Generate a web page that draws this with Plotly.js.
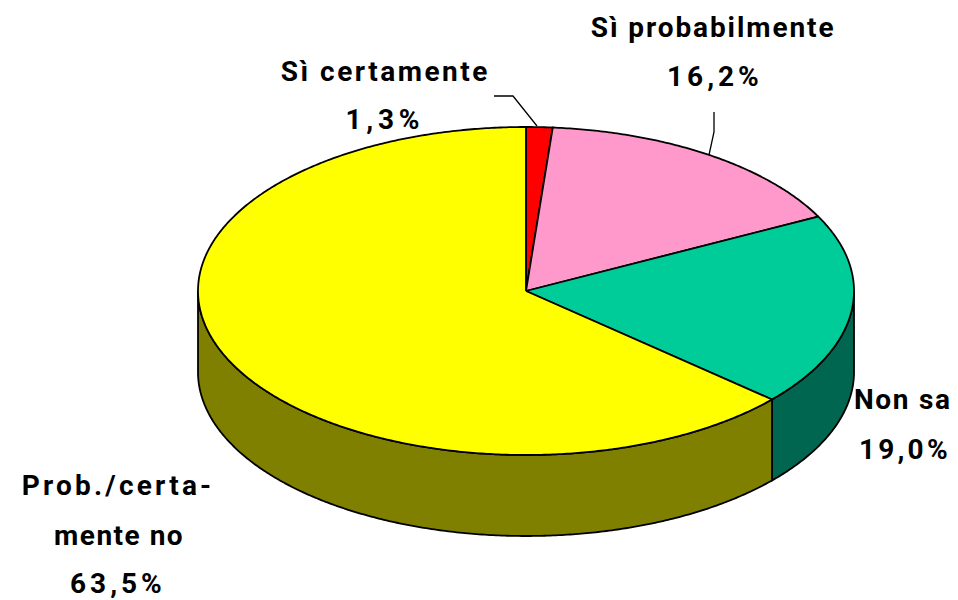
<!DOCTYPE html>
<html>
<head>
<meta charset="utf-8">
<script src="https://cdn.plot.ly/plotly-3.0.1.min.js"></script>
<style>
html,body{margin:0;padding:0;background:#fff}
#chart{width:958px;height:600px}
</style>
</head>
<body>
<div id="chart"></div>
<script>
// Data, clockwise from 12 o'clock
const categories = ['Sì certamente', 'Sì probabilmente', 'Non sa', 'Prob./certamente no'];
const shares = [1.3, 16.2, 19.0, 63.5];
const percentLabels = ['1,3%', '16,2%', '19,0%', '63,5%'];
const topColors = ['#FF0000', '#FF99CC', '#00CC99', '#FFFF00'];
const wallColors = ['#800000', '#804C66', '#006650', '#808000'];

// Geometry of the tilted pie on a 958x600 axis
const CX = 526, CY = 291, RX = 328, RY = 164, DEPTH = 81;

const pt = (deg, dy) => {
  const r = deg * Math.PI / 180;
  return [CX + RX * Math.sin(r), CY - RY * Math.cos(r) + (dy || 0)];
};
const arc = (a, b, dy) => {
  const out = [];
  const n = Math.max(2, Math.ceil(Math.abs(b - a) * 2));
  for (let i = 0; i <= n; i++) out.push(pt(a + (b - a) * i / n, dy));
  return out;
};
const poly = (pts, fill) => ({
  type: 'scatter', mode: 'lines',
  x: pts.map(p => p[0]), y: pts.map(p => p[1]),
  fill: 'toself', fillcolor: fill,
  line: {color: '#000', width: 1.8, simplify: false},
  hoverinfo: 'skip', showlegend: false
});
const leader = (xs, ys) => ({
  type: 'scatter', mode: 'lines', x: xs, y: ys,
  line: {color: '#000', width: 1.3}, hoverinfo: 'skip', showlegend: false
});

const traces = [];
let start = 0;
const bounds = shares.map(s => {
  const b = [start, start + s * 3.6];
  start = b[1];
  return b;
});
// Visible walls: the part of each slice on the front half (90 to 270 degrees)
bounds.forEach((b, i) => {
  const a0 = Math.max(b[0], 90), a1 = Math.min(b[1], 270);
  if (a1 > a0) {
    traces.push(poly(arc(a0, a1, 0).concat(arc(a1, a0, DEPTH), [pt(a0, 0)]), wallColors[i]));
  }
});
// Top faces
bounds.forEach((b, i) => {
  traces.push(poly([[CX, CY]].concat(arc(b[0], b[1], 0), [[CX, CY]]), topColors[i]));
});
// Leader lines
traces.push(leader([494, 513, 537], [96, 96, 126]));
traces.push(leader([714, 714, 709], [112, 132, 155]));

// text, x, y, letter spacing
const textLines = [
  ['Sì probabilmente', 713, 27, 1.9],
  [percentLabels[1], 715, 76, 4],
  ['Sì certamente', 385, 71, 2.5],
  [percentLabels[0], 385, 119, 4.7],
  ['Non sa', 903, 399, 1.7],
  [percentLabels[2], 905, 449, 3.2],
  ['Prob./certa-', 118, 485, 3.2],
  ['mente no', 119, 535, 1.5],
  [percentLabels[3], 118, 583, 4]
];
const annotations = textLines.map(t => ({
  text: t[0], x: t[1], y: t[2], xref: 'x', yref: 'y',
  showarrow: false, xanchor: 'center', yanchor: 'middle',
  font: {family: 'Roboto, Liberation Sans, Arial, sans-serif', size: 28, color: '#000', weight: 700}
}));

const hidden = {visible: false, fixedrange: true};
Plotly.newPlot('chart', traces, {
  width: 958, height: 600,
  margin: {l: 0, r: 0, t: 0, b: 0},
  paper_bgcolor: '#fff', plot_bgcolor: '#fff',
  xaxis: Object.assign({range: [0, 958]}, hidden),
  yaxis: Object.assign({range: [600, 0]}, hidden),
  showlegend: false,
  annotations: annotations
}, {displayModeBar: false, staticPlot: true}).then(() => {
  document.querySelectorAll('.annotation-text').forEach(el => {
    const line = textLines.find(t => t[0] === el.textContent);
    if (line) el.style.letterSpacing = line[3] + 'px';
  });
});
</script>
</body>
</html>
